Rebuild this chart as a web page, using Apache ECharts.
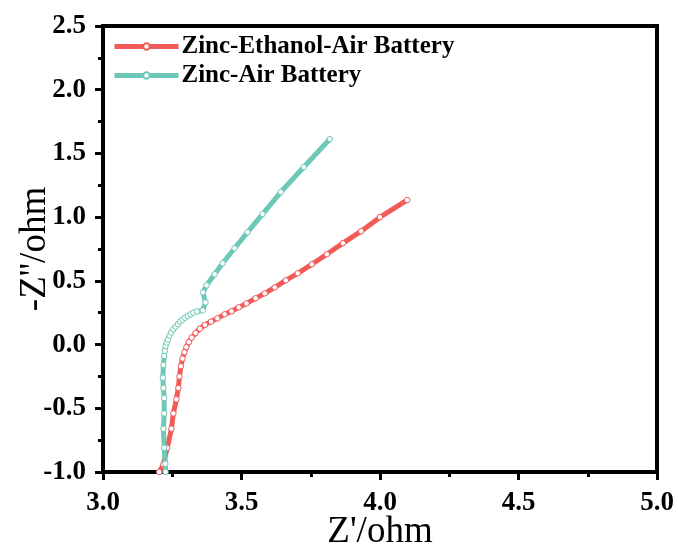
<!DOCTYPE html>
<html>
<head>
<meta charset="utf-8">
<script src="https://cdn.jsdelivr.net/npm/echarts@6/dist/echarts.min.js"></script>
<style>html,body{margin:0;padding:0;background:#fff}#c{width:678px;height:554px}</style>
</head>
<body>
<div id="c"></div>
<script>
var seriesNames = ['Zinc-Ethanol-Air Battery', 'Zinc-Air Battery'];
var redX = [3.203, 3.218, 3.232, 3.247, 3.254, 3.265, 3.272, 3.276, 3.281, 3.287, 3.294, 3.301, 3.310, 3.320, 3.334, 3.350, 3.368, 3.390, 3.413, 3.439, 3.464, 3.490, 3.518, 3.551, 3.584, 3.620, 3.660, 3.703, 3.754, 3.808, 3.866, 3.932, 4.000, 4.098];
var redY = [-1.00, -0.94, -0.81, -0.66, -0.54, -0.43, -0.34, -0.25, -0.17, -0.11, -0.06, -0.02, 0.02, 0.055, 0.09, 0.125, 0.155, 0.18, 0.206, 0.237, 0.261, 0.292, 0.323, 0.363, 0.402, 0.449, 0.504, 0.559, 0.630, 0.709, 0.796, 0.890, 1.000, 1.134];
var tealX = [3.226, 3.225, 3.221, 3.218, 3.221, 3.221, 3.218, 3.216, 3.218, 3.221, 3.223, 3.226, 3.230, 3.234, 3.240, 3.246, 3.254, 3.262, 3.270, 3.278, 3.287, 3.296, 3.306, 3.316, 3.326, 3.339, 3.360, 3.370, 3.361, 3.374, 3.403, 3.432, 3.475, 3.522, 3.576, 3.642, 3.725, 3.819];
var tealY = [-1.00, -0.935, -0.81, -0.66, -0.54, -0.42, -0.34, -0.26, -0.16, -0.09, -0.05, -0.01, 0.015, 0.04, 0.07, 0.095, 0.12, 0.14, 0.16, 0.18, 0.195, 0.21, 0.225, 0.238, 0.250, 0.260, 0.268, 0.331, 0.41, 0.465, 0.552, 0.638, 0.756, 0.882, 1.024, 1.197, 1.393, 1.613];
var xTicks = [3.0, 3.5, 4.0, 4.5, 5.0];
var yTicks = [-1.0, -0.5, 0.0, 0.5, 1.0, 1.5, 2.0, 2.5];
var colors = ['#F05A57', '#6DC9B6'];

function zip(a, b) { return a.map(function (v, i) { return [v, b[i]]; }); }
var font = '"Liberation Serif", "Times New Roman", serif';

var chart = echarts.init(document.getElementById('c'), null, {renderer: 'canvas'});
function axisCommon(margin) {
  return {
    axisLine: {show: true, onZero: false, lineStyle: {color: '#000', width: 4}},
    axisTick: {show: true, inside: false, length: 8, lineStyle: {color: '#000', width: 3}},
    minorTick: {show: true, splitNumber: 2, length: 5, lineStyle: {color: '#000', width: 3}},
    splitLine: {show: false},
    axisLabel: {color: '#000', fontFamily: font, fontWeight: 'bold', fontSize: 27, margin: margin,
      formatter: function (v) { return Number(v).toFixed(1); }},
    nameLocation: 'middle',
    nameMoveOverlap: false,
    nameTextStyle: {color: '#000', fontFamily: font, fontSize: 37}
  };
}
chart.setOption({
  animation: false,
  grid: {left: 103, right: 21, top: 26, bottom: 82, show: true, borderColor: '#000', borderWidth: 4,
    containLabel: false, outerBoundsMode: 'none'},
  legend: {
    show: true, left: 107, top: 29, orient: 'vertical', itemWidth: 64, itemHeight: 8, itemGap: 4,
    lineStyle: {width: 5},
    textStyle: {color: '#000', fontFamily: font, fontWeight: 'bold', fontSize: 25, padding: [0, 0, 0, -2]},
    data: seriesNames
  },
  xAxis: Object.assign(axisCommon(18), {
    type: 'value', min: xTicks[0], max: xTicks[xTicks.length - 1], interval: 0.5,
    name: "Z'/ohm", nameGap: 42
  }),
  yAxis: Object.assign(axisCommon(17), {
    type: 'value', min: yTicks[0], max: yTicks[yTicks.length - 1], interval: 0.5,
    name: "-Z''/ohm", nameGap: 49
  }),
  series: [
    {name: seriesNames[0], type: 'line', data: zip(redX, redY), color: colors[0],
     lineStyle: {width: 5, color: colors[0]}, symbol: 'circle', symbolSize: 5.5, showAllSymbol: true,
     itemStyle: {color: '#fff', borderColor: colors[0], borderWidth: 1}, clip: true, z: 2},
    {name: seriesNames[1], type: 'line', data: zip(tealX, tealY), color: colors[1],
     lineStyle: {width: 5, color: colors[1]}, symbol: 'circle', symbolSize: 5.5, showAllSymbol: true,
     itemStyle: {color: '#fff', borderColor: colors[1], borderWidth: 1}, clip: true, z: 3}
  ]
});
</script>
</body>
</html>
